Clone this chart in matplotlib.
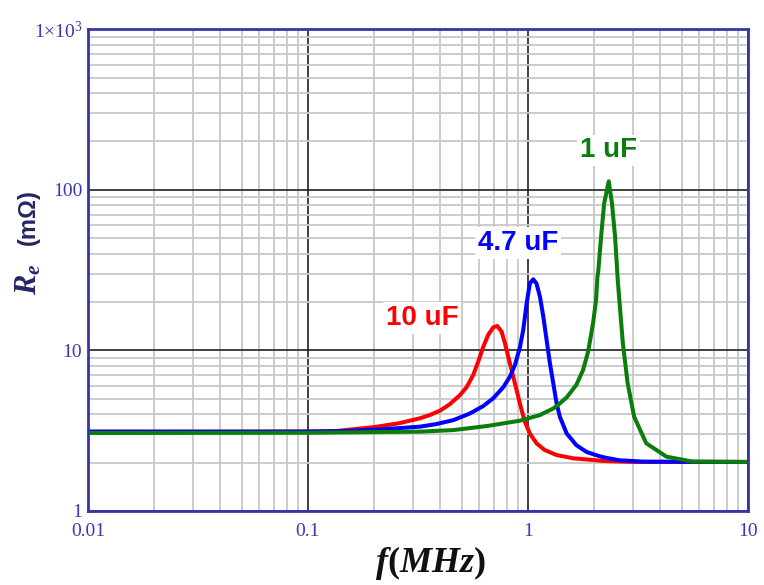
import matplotlib
matplotlib.use("Agg")
import matplotlib.pyplot as plt
from matplotlib.ticker import LogLocator, FixedLocator, FixedFormatter, NullFormatter

# ── Data (f in MHz, Re in mOhm) ──
f_10uF = [0.01, 0.05, 0.10, 0.135, 0.20, 0.26, 0.323, 0.3585, 0.398, 0.442, 0.491,
          0.526, 0.564, 0.594, 0.626, 0.660, 0.695, 0.725, 0.759, 0.786, 0.814,
          0.843, 0.873, 0.904, 0.936, 0.969, 1.02, 1.094, 1.19, 1.35, 1.6, 2.2,
          3.0, 10]
re_10uF = [3.12, 3.12, 3.13, 3.15, 3.33, 3.52, 3.78, 3.96, 4.21, 4.63, 5.27,
           5.89, 7.02, 8.49, 10.5, 12.5, 13.9, 14.2, 13.1, 11.1, 9.12,
           7.54, 6.23, 5.14, 4.25, 3.59, 3.04, 2.64, 2.40, 2.23, 2.13, 2.05,
           2.02, 2.02]

f_4u7 = [0.01, 0.10, 0.15, 0.212, 0.323, 0.384, 0.458, 0.545, 0.626, 0.695,
         0.772, 0.828, 0.873, 0.920, 0.952, 0.986, 1.02, 1.057, 1.094, 1.134,
         1.175, 1.216, 1.259, 1.304, 1.35, 1.397, 1.50, 1.66, 1.85, 2.12, 2.28,
         2.6, 3.33, 10]
re_4u7 = [3.12, 3.12, 3.15, 3.22, 3.35, 3.48, 3.68, 4.05, 4.50, 5.03,
          5.89, 6.85, 8.1, 10.5, 13.4, 19.5, 26.1, 27.7, 26.1, 21.6,
          16.2, 11.6, 8.3, 6.23, 4.68, 3.86, 3.04, 2.57, 2.33, 2.19, 2.14,
          2.07, 2.03, 2.02]

f_1uF = [0.01, 0.10, 0.323, 0.458, 0.649, 0.92, 1.134, 1.304, 1.397, 1.50,
         1.66, 1.78, 1.85, 1.88, 1.98, 2.04, 2.07, 2.09, 2.15, 2.22, 2.33,
         2.41, 2.49, 2.56, 2.70, 2.84, 3.04, 3.45, 4.26, 5.6, 10]
re_1uF = [3.06, 3.07, 3.12, 3.19, 3.38, 3.65, 3.96, 4.35, 4.68, 5.1,
          6.1, 7.54, 9.12, 9.9, 15.0, 20.6, 28.7, 31.6, 50.9, 82.2, 113,
          82.2, 50.9, 27.4, 11.1, 6.23, 3.86, 2.64, 2.18, 2.03, 2.02]

x_ticks = [0.01, 0.1, 1, 10]
x_labels = ['0.01', '0.1', '1', '10']
y_ticks = [1, 10, 100, 1000]
y_labels = ['1', '10', '100', r'$1{\times}10^3$']

plt.rcParams['mathtext.fontset'] = 'custom'
plt.rcParams['mathtext.rm'] = 'Liberation Serif'
plt.rcParams['mathtext.it'] = 'Liberation Serif:italic:bold'
plt.rcParams['mathtext.bf'] = 'Liberation Serif:bold'

NAVY = '#3535a5'
TICK_COL = '#3a3ab0'

fig = plt.figure(figsize=(7.64, 5.85), dpi=100)
ax = fig.add_axes([0.115, 0.1265, 0.864, 0.8235])

# ── Curves (green drawn last, on top) ──
ax.plot(f_10uF, re_10uF, color='#ff0000', lw=2.9, zorder=3, solid_joinstyle='round')
ax.plot(f_4u7, re_4u7, color='#0000ff', lw=2.9, zorder=4, solid_joinstyle='round')
ax.plot(f_1uF, re_1uF, color='#0a7d0a', lw=2.9, zorder=5, solid_joinstyle='round')

ax.set_xscale('log')
ax.set_yscale('log')
ax.set_xlim(0.01, 10)
ax.set_ylim(1, 1000)

# ── Ticks / grid ──
ax.xaxis.set_major_locator(FixedLocator(x_ticks))
ax.xaxis.set_major_formatter(FixedFormatter(x_labels))
ax.yaxis.set_major_locator(FixedLocator(y_ticks))
ax.yaxis.set_major_formatter(FixedFormatter(y_labels))
ax.xaxis.set_minor_locator(LogLocator(base=10, subs=range(2, 10)))
ax.yaxis.set_minor_locator(LogLocator(base=10, subs=range(2, 10)))
ax.xaxis.set_minor_formatter(NullFormatter())
ax.yaxis.set_minor_formatter(NullFormatter())

ax.grid(which='minor', color='#c8c8c8', lw=1.3, zorder=0)
ax.grid(which='major', color='#202020', lw=1.2, zorder=1)
ax.set_axisbelow(True)

ax.tick_params(which='both', length=0)
ax.tick_params(axis='x', pad=9)
ax.tick_params(axis='y', pad=4)
for lab in ax.get_xticklabels() + ax.get_yticklabels():
    lab.set_fontfamily('Liberation Serif')
    lab.set_fontsize(14)
    lab.set_color(TICK_COL)

for s in ax.spines.values():
    s.set_color(NAVY)
    s.set_linewidth(2)
    s.set_zorder(6)

# ── Curve labels ──
box = dict(facecolor='white', edgecolor='none', pad=2)
ax.text(0.33, 15.9, '10 uF', color='#ff0000', fontsize=20, fontweight='bold',
        family='Liberation Sans', ha='center', va='center', bbox=box, zorder=2)
ax.text(0.90, 46.5, '4.7 uF', color='#0000ff', fontsize=20, fontweight='bold',
        family='Liberation Sans', ha='center', va='center', bbox=box, zorder=2)
ax.text(2.33, 176, '1 uF', color='#0a7d0a', fontsize=20, fontweight='bold',
        family='Liberation Sans', ha='center', va='center', bbox=box, zorder=2)

# ── Axis titles ──
fig.text(0.564, 0.038, r'$f\mathbf{(}MHz\mathbf{)}$', fontsize=26, color='#111111',
         ha='center', va='center')
fig.text(0.037, 0.522, r'$R_e$', fontsize=22, color='#24246a',
         rotation=90, ha='center', va='center')
fig.text(0.037, 0.629, '(mΩ)', fontsize=17, fontweight='bold',
         family='Liberation Sans', color='#24246a', rotation=90,
         ha='center', va='center')

fig.savefig('out.png', dpi=100, facecolor='white')
